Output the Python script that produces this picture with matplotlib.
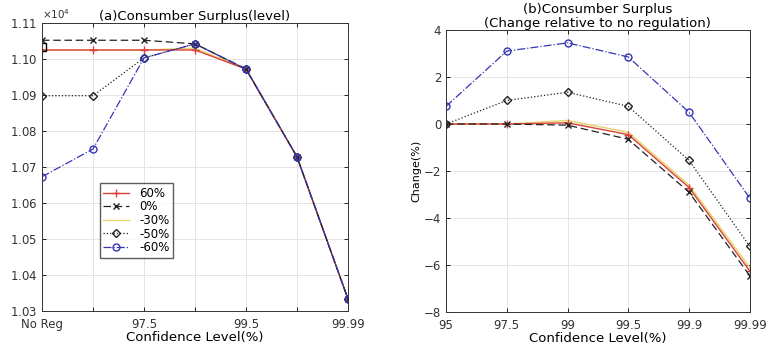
import matplotlib.pyplot as plt
from matplotlib.ticker import ScalarFormatter

plt.rcParams['font.family'] = ['DejaVu Sans']
plt.rcParams['font.size'] = 8

# Panel (a): consumer surplus level
level_labels = ["No Reg", "", "97.5", "", "99.5", "", "99.99"]
cs_60 = [11025, 11025, 11025, 11025, 10972, 10728, 10333]
cs_0 = [11052, 11052, 11052, 11042, 10972, 10728, 10333]
cs_m30 = [11025, 11025, 11025, 11030, 10972, 10728, 10333]
cs_m50 = [10898, 10898, 11003, 11042, 10972, 10728, 10333]
cs_m60 = [10673, 10750, 11003, 11042, 10972, 10728, 10333]
no_reg_point = 11033

# Panel (b): change relative to no regulation
conf_labels = ["95", "97.5", "99", "99.5", "99.9", "99.99"]
ch_60 = [0, 0, 0.05, -0.45, -2.7, -6.25]
ch_0 = [0, 0, -0.05, -0.65, -2.9, -6.45]
ch_m30 = [0, 0, 0.15, -0.35, -2.6, -6.1]
ch_m50 = [0, 1.0, 1.35, 0.75, -1.55, -5.2]
ch_m60 = [0.75, 3.1, 3.45, 2.85, 0.5, -3.15]

red = "#d9413a"
yellow = "#e6d36a"
blue = "#3535b5"
black = "#222222"

fig = plt.figure(figsize=(7.69, 3.48), dpi=100)
ax1 = fig.add_axes([0.0546, 0.106, 0.398, 0.828])
ax2 = fig.add_axes([0.580, 0.103, 0.395, 0.811])


def style_axis(ax):
    ax.grid(True, color="#e4e4e4", linewidth=0.7)
    ax.set_axisbelow(True)
    ax.tick_params(direction="in", length=3, top=True, right=True, width=0.6,
                   labelsize=8.5, labelcolor="#333333")
    for s in ax.spines.values():
        s.set_linewidth(0.7)
        s.set_color("#333333")


# panel (a)
x1 = list(range(1, len(level_labels) + 1))
ax1.plot(x1, cs_m30, color=yellow, lw=1.0, label="-30%")
ax1.plot(x1, cs_60, color=red, lw=1.0, marker="+", ms=6, label="60%")
ax1.plot(x1, cs_0, color=black, lw=0.9, ls=(0, (6, 3)), marker="x", ms=4, label="0%")
ax1.plot(x1, cs_m50, color=black, lw=0.9, ls=":", marker="D", ms=4,
         mfc="none", label="-50%")
ax1.plot(x1, cs_m60, color=blue, lw=0.9, ls="-.", marker="o", ms=5,
         mfc="none", label="-60%")
ax1.plot([1], [no_reg_point], marker="s", color="black", mfc="none", ms=6, ls="none")
ax1.set_xlim(1, 7)
ax1.set_ylim(10300, 11100)
ax1.set_xticks(x1)
ax1.set_xticklabels(level_labels)
ax1.set_yticks(range(10300, 11101, 100))
fmt = ScalarFormatter(useMathText=True)
fmt.set_powerlimits((0, 0))
fmt.set_useOffset(False)
ax1.yaxis.set_major_formatter(fmt)
ax1.yaxis.get_offset_text().set_fontsize(7.5)
ax1.yaxis.get_offset_text().set_color("#555555")
ax1.set_xlabel("Confidence Level(%)", fontsize=9.5, labelpad=0)
ax1.set_title("(a)Consumber Surplus(level)", fontsize=9.5, pad=2)
style_axis(ax1)
ax1.tick_params(axis="x", pad=5)
handles, labels = ax1.get_legend_handles_labels()
order = [1, 2, 0, 3, 4]
ax1.legend([handles[i] for i in order], [labels[i] for i in order],
           loc="lower left", bbox_to_anchor=(0.17, 0.165), fontsize=8.5,
           frameon=True, fancybox=False, edgecolor="#333333",
           handlelength=2.2, borderpad=0.3, labelspacing=0.05)

# panel (b)
x2 = list(range(1, len(conf_labels) + 1))
ax2.plot(x2, ch_m30, color=yellow, lw=1.0)
ax2.plot(x2, ch_60, color=red, lw=1.0, marker="+", ms=6)
ax2.plot(x2, ch_0, color=black, lw=0.9, ls=(0, (6, 3)), marker="x", ms=4)
ax2.plot(x2, ch_m50, color=black, lw=0.9, ls=":", marker="D", ms=4, mfc="none")
ax2.plot(x2, ch_m60, color=blue, lw=0.9, ls="-.", marker="o", ms=5, mfc="none")
ax2.set_xlim(1, 6)
ax2.set_ylim(-8, 4)
ax2.set_xticks(x2)
ax2.set_xticklabels(conf_labels)
ax2.set_yticks(range(-8, 5, 2))
ax2.set_xlabel("Confidence Level(%)", fontsize=9.5, labelpad=0)
ax2.set_ylabel("Change(%)", fontsize=8, labelpad=2)
ax2.set_title("(b)Consumber Surplus\n(Change relative to no regulation)",
              fontsize=9.5, pad=2, linespacing=1.15)
style_axis(ax2)
ax2.tick_params(axis="x", pad=5)

fig.savefig("out.png", dpi=100)
